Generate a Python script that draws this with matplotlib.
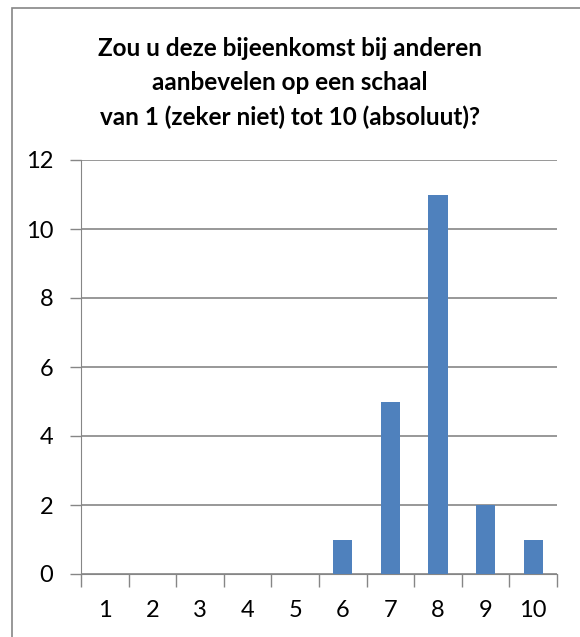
import matplotlib.pyplot as plt
from matplotlib.patches import Rectangle

scores = ['1', '2', '3', '4', '5', '6', '7', '8', '9', '10']
counts = [0, 0, 0, 0, 0, 1, 5, 11, 2, 1]
title = 'Zou u deze bijeenkomst bij anderen\naanbevelen op een schaal\nvan 1 (zeker niet) tot 10 (absoluut)?'

plt.rcParams['font.family'] = ['Lato', 'DejaVu Sans']

W, H = 580, 637
fig = plt.figure(figsize=(W / 100, H / 100), dpi=100)
# plot area in pixels: x 81..557, y 160..574
ax = fig.add_axes([81 / W, (H - 574) / H, (557 - 81) / W, (574 - 160) / H])

x = list(range(len(scores)))
ax.bar(x, counts, width=0.4, color='#4F81BD', zorder=3)

ax.set_xlim(-0.5, len(scores) - 0.5)
ax.set_ylim(0, 12)
ax.set_yticks(range(0, 13, 2))
ax.set_xticks(x)
ax.set_xticklabels(scores)
ax.set_xticks([i - 0.5 for i in range(len(scores) + 1)], minor=True)
ax.tick_params(axis='x', which='major', length=0, pad=19, labelsize=17)
ax.tick_params(axis='x', which='minor', length=9, width=1, color='#868686', direction='out')
ax.tick_params(axis='y', length=8, width=1, color='#868686', pad=12, labelsize=17)

ax.grid(axis='y', color='#868686', linewidth=1.2, zorder=0)
for s in ['top', 'right']:
    ax.spines[s].set_visible(False)
ax.spines['left'].set_color('#868686')
ax.spines['bottom'].set_color('#868686')

fig.text(0.5, 1 - 83 / H, title, ha='center', va='center', fontsize=17.5, fontweight='bold',
         linespacing=1.6)

fig.patches.append(Rectangle((12 / W, -0.05), 1.0, 1 - 8 / H + 0.05, transform=fig.transFigure,
                             fill=False, edgecolor='#868686', linewidth=1.2))

fig.savefig('out.png', dpi=100)
